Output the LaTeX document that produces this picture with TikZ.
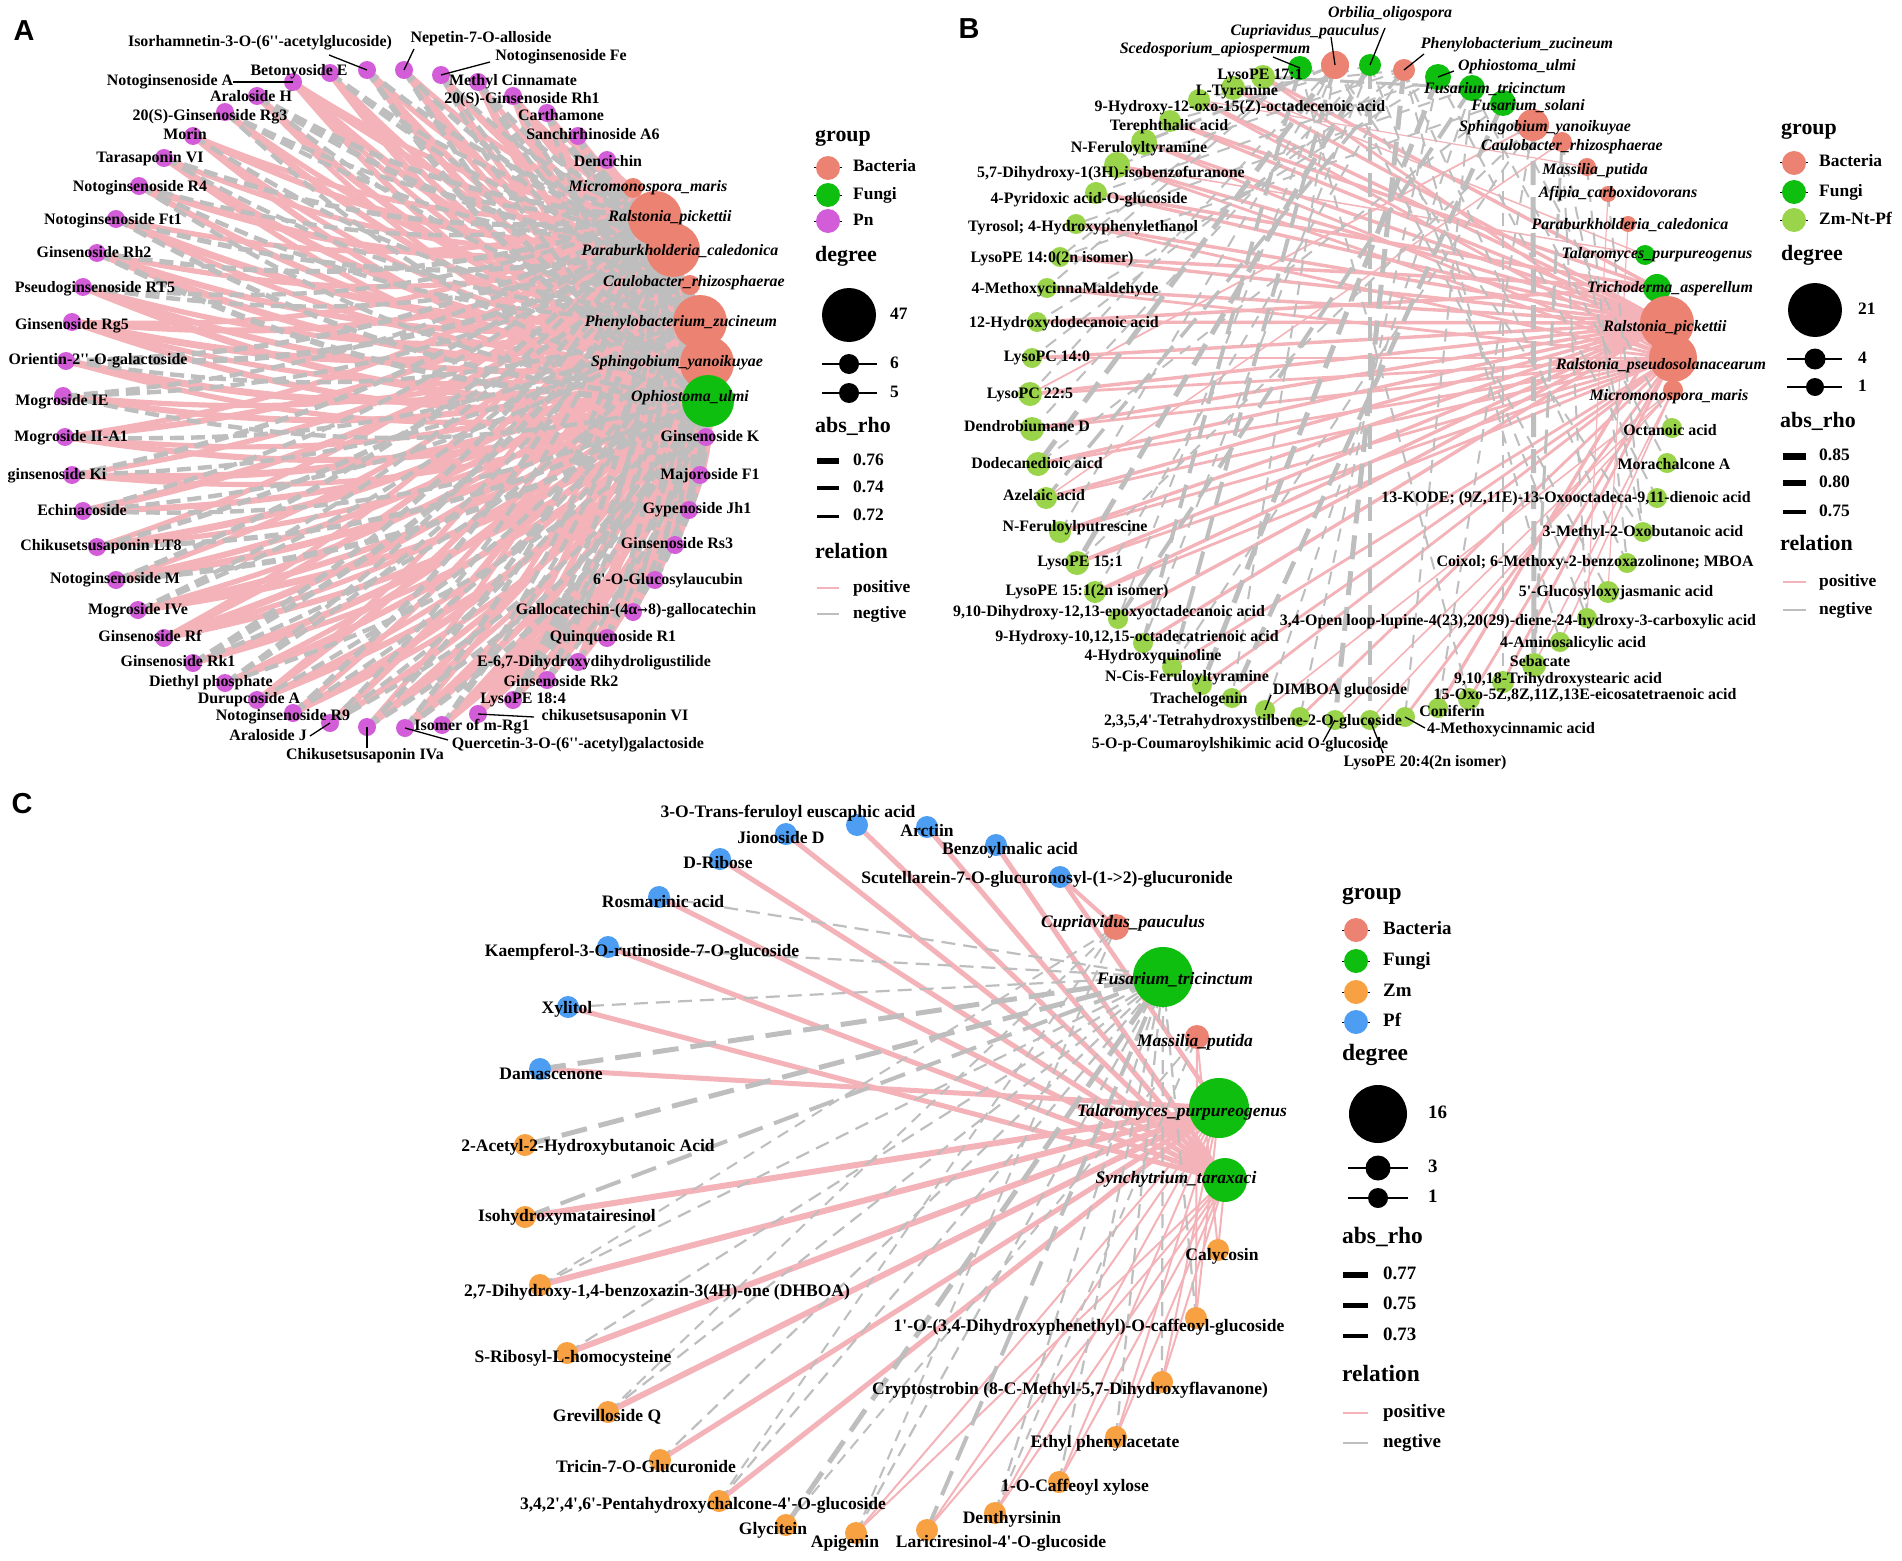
\documentclass[tikz,border=0pt]{standalone}
\usepackage{fontspec}
\newfontfamily\serf{Liberation Serif}[Ligatures=TeXOff]
\newfontfamily\sanf{Liberation Sans}
\newfontfamily\dejs{DejaVu Serif}
\definecolor{bact}{HTML}{EC8272}
\definecolor{fung}{HTML}{0FBF0F}
\definecolor{pn}{HTML}{D35CD8}
\definecolor{zmnt}{HTML}{9AD44B}
\definecolor{zm}{HTML}{F7A142}
\definecolor{pf}{HTML}{4D9EF3}
\definecolor{epink}{HTML}{F4B3B8}
\definecolor{egrey}{HTML}{BEBEBE}
\pgfdeclarelayer{bgfill}
\pgfdeclarelayer{edges}
\pgfsetlayers{bgfill,edges,main}
\newcommand\fnA{\serf\bfseries\fontsize{16}{18}\selectfont}
\newcommand\fnAi{\serf\bfseries\itshape\fontsize{16}{18}\selectfont}
\newcommand\fnC{\serf\bfseries\fontsize{17.6}{19}\selectfont}
\newcommand\fnCi{\serf\bfseries\itshape\fontsize{17.6}{19}\selectfont}
\newcommand\fnT{\serf\bfseries\fontsize{22}{24}\selectfont}
\newcommand\fnE{\serf\bfseries\fontsize{17.5}{19}\selectfont}
\newcommand\fnTc{\serf\bfseries\fontsize{23.5}{25}\selectfont}
\newcommand\fnEc{\serf\bfseries\fontsize{19}{21}\selectfont}
\newcommand\fnP{\sanf\bfseries\fontsize{29}{31}\selectfont}
\newcommand\arr{{\dejs\bfseries\fontsize{13}{15}\selectfont →}}
\tikzset{
 dot/.style={circle,inner sep=0pt,minimum size=#1,draw=none},
 la/.style={inner sep=0pt,font=\fnA,text height=11bp,text depth=3.5bp},
 lai/.style={la,font=\fnAi},
 lc/.style={inner sep=0pt,font=\fnC,text height=12bp,text depth=4bp},
 lci/.style={lc,font=\fnCi},
 pe/.style={draw=epink},
 ge/.style={draw=egrey,dash pattern=on 14bp off 7bp},
 geb/.style={draw=egrey,dash pattern=on 24bp off 12bp},
 lead/.style={draw=black,line width=1.3bp},
 lgt/.style={inner sep=0pt,font=\fnT,anchor=west,text height=15bp,text depth=5bp},
 lge/.style={inner sep=0pt,font=\fnE,anchor=west,text height=12bp,text depth=4bp},
 lgtc/.style={inner sep=0pt,font=\fnTc,anchor=west,text height=16bp,text depth=5bp},
 lgec/.style={inner sep=0pt,font=\fnEc,anchor=west,text height=13bp,text depth=4bp},
 keyline/.style={draw=black,line width=1bp},
}
% ---------------- data ----------------
\def\Alist{a1/706/437/710/438/{Ginsenoside K},
a2/700/475/710/476/{Majoroside F1},
a3/689/510/697/510/{Gypenoside Jh1},
a4/675/545/677/545/{Ginsenoside Rs3},
a5/655/580/668/581/{6'-O-Glucosylaucubin},
a6/633/612/636/611/{Gallocatechin-(4α\arr8)-gallocatechin},
a7/607/638/613/638/{Quinquenoside R1},
a8/578/662/594/663/{E-6,7-Dihydroxydihydroligustilide},
a9/547/680/561/683/{Ginsenoside Rk2},
a10/513/700/523/700/{LysoPE 18:4},
a11/478/714/615/717/{chikusetsusaponin VI},
a12/442/725/472/727/{Isomer of m-Rg1},
a13/405/728/578/745/{Quercetin-3-O-(6''-acetyl)galactoside},
a14/367/727/365/756/{Chikusetsusaponin IVa},
a15/330/723/268/737/{Araloside J},
a16/293/713/283/717/{Notoginsenoside R9},
a17/257/700/249/700/{Durupcoside A},
a18/225/683/211/683/{Diethyl phosphate},
a19/193/663/178/663/{Ginsenoside Rk1},
a20/164/638/150/638/{Ginsenoside Rf},
a21/138/610/138/611/{Mogroside IVe},
a22/116/580/115/580/{Notoginsenoside M},
a23/97/547/101/547/{Chikusetsusaponin LT8},
a24/83/511/82/512/{Echinacoside},
a25/72/475/57/476/{ginsenoside Ki},
a26/65/437/71/438/{Mogroside II-A1},
a27/63/396/62/402/{Mogroside IE},
a28/66/361/98/361/{Orientin-2''-O-galactoside},
a29/72/322/72/326/{Ginsenoside Rg5},
a30/83/287/95/289/{Pseudoginsenoside RT5},
a31/97/253/94/254/{Ginsenoside Rh2},
a32/116/219/113/221/{Notoginsenoside Ft1},
a33/139/186/140/188/{Notoginsenoside R4},
a34/164/158/150/159/{Tarasaponin VI},
a35/193/136/185/136/{Morin},
a36/225/112/210/117/{20(S)-Ginsenoside Rg3},
a37/257/96/251/98/{Araloside H},
a38/293/82/170/82/{Notoginsenoside A},
a39/330/73/299/72/{Betonyoside E},
a40/367/70/260/43/{Isorhamnetin-3-O-(6''-acetylglucoside)},
a41/404/70/481/39/{Nepetin-7-O-alloside},
a42/441/75/561/57/{Notoginsenoside Fe},
a43/478/82/513/82/{Methyl Cinnamate},
a44/513/96/522/100/{20(S)-Ginsenoside Rh1},
a45/547/113/561/117/{Carthamone},
a46/578/136/593/136/{Sanchirhinoside A6},
a47/607/160/608/163/{Dencichin}}
\def\AMlist{aM/633/188/20/bact/648/188/{Micromonospora\_maris},
aR/655/218/54/bact/670/218/{Ralstonia\_pickettii},
aP/673/250/54/bact/680/252/{Paraburkholderia\_caledonica},
aC/690/285/20/bact/694/283/{Caulobacter\_rhizosphaerae},
aPh/700/322/54/bact/681/323/{Phenylobacterium\_zucineum},
aS/707/363/54/bact/677/363/{Sphingobium\_yanoikuyae},
aO/708/401/52/fung/690/398/{Ophiostoma\_ulmi}}
\def\Blist{b1/1263/77/24/1260/76/{LysoPE 17:1},
b2/1233/88/24/1237/92/{L-Tyramine},
b3/1199/100/22/1240/108/{9-Hydroxy-12-oxo-15(Z)-octadecenoic acid},
b4/1170/121/22/1169/127/{Terephthalic acid},
b5/1144/142/26/1139/149/{N-Feruloyltyramine},
b6/1117/165/26/1111/174/{5,7-Dihydroxy-1(3H)-isobenzofuranone},
b7/1096/193/22/1089/200/{4-Pyridoxic acid-O-glucoside},
b8/1076/224/20/1083/228/{Tyrosol; 4-Hydroxyphenylethanol},
b9/1060/257/20/1052/259/{LysoPE 14:0(2n isomer)},
b10/1047/288/20/1065/290/{4-MethoxycinnaMaldehyde},
b11/1037/322/20/1064/324/{12-Hydroxydodecanoic acid},
b12/1032/358/20/1047/358/{LysoPC 14:0},
b13/1030/394/24/1030/395/{LysoPC 22:5},
b14/1032/429/24/1027/428/{Dendrobiumane D},
b15/1038/464/24/1037/465/{Dodecanedioic aicd},
b16/1046/498/22/1044/497/{Azelaic acid},
b17/1060/532/22/1075/528/{N-Feruloylputrescine},
b18/1077/563/24/1080/563/{LysoPE 15:1},
b19/1095/592/22/1087/592/{LysoPE 15:1(2n isomer)},
b20/1118/619/20/1109/613/{9,10-Dihydroxy-12,13-epoxyoctadecanoic acid},
b21/1143/643/20/1137/638/{9-Hydroxy-10,12,15-octadecatrienoic acid},
b22/1172/667/20/1153/657/{4-Hydroxyquinoline},
b23/1202/685/20/1187/678/{N-Cis-Feruloyltyramine},
b24/1232/698/20/1199/700/{Trachelogenin},
b25/1265/710/20/1340/691/{DIMBOA glucoside},
b26/1300/717/20/1253/722/{2,3,5,4'-Tetrahydroxystilbene-2-O-glucoside},
b27/1335/720/20/1240/745/{5-O-p-Coumaroylshikimic acid O-glucoside},
b28/1370/720/20/1425/763/{LysoPE 20:4(2n isomer)},
b29/1405/717/20/1511/730/{4-Methoxycinnamic acid},
b30/1438/708/20/1452/713/{Coniferin},
b31/1469/699/22/1585/696/{15-Oxo-5Z,8Z,11Z,13E-eicosatetraenoic acid},
b32/1503/682/22/1558/680/{9,10,18-Trihydroxystearic acid},
b33/1534/665/24/1540/663/{Sebacate},
b34/1560/642/20/1573/644/{4-Aminosalicylic acid},
b35/1587/618/20/1518/622/{3,4-Open loop-lupine-4(23),20(29)-diene-24-hydroxy-3-carboxylic acid},
b36/1608/592/22/1616/593/{5'-Glucosyloxyjasmanic acid},
b37/1627/563/20/1595/563/{Coixol; 6-Methoxy-2-benzoxazolinone; MBOA},
b38/1643/532/20/1643/533/{3-Methyl-2-Oxobutanoic acid},
b39/1657/498/20/1566/499/{13-KODE; (9Z,11E)-13-Oxooctadeca-9,11-dienoic acid},
b40/1667/463/20/1674/466/{Morachalcone A},
b41/1672/428/20/1670/432/{Octanoic acid}}
\def\BMlist{bSc/1300/68/24/fung/1215/50/{Scedosporium\_apiospermum},
bCu/1335/65/28/bact/1305/32/{Cupriavidus\_pauculus},
bOr/1370/65/22/fung/1390/14/{Orbilia\_oligospora},
bPh/1404/70/22/bact/1517/45/{Phenylobacterium\_zucineum},
bOp/1438/77/26/fung/1517/67/{Ophiostoma\_ulmi},
bFt/1472/88/26/fung/1495/90/{Fusarium\_tricinctum},
bFs/1503/103/26/fung/1528/107/{Fusarium\_solani},
bSp/1533/125/32/bact/1545/128/{Sphingobium\_yanoikuyae},
bCa/1562/142/20/bact/1572/147/{Caulobacter\_rhizosphaerae},
bMa/1587/167/18/bact/1595/171/{Massilia\_putida},
bAf/1608/194/16/bact/1618/194/{Afipia\_carboxidovorans},
bPa/1628/224/16/bact/1630/226/{Paraburkholderia\_caledonica},
bTa/1645/255/20/fung/1657/255/{Talaromyces\_purpureogenus},
bTr/1657/288/28/fung/1670/289/{Trichoderma\_asperellum},
bRp/1667/323/54/bact/1665/328/{Ralstonia\_pickettii},
bRs/1673/358/48/bact/1661/366/{Ralstonia\_pseudosolanacearum},
bMi/1673/390/20/bact/1669/397/{Micromonospora\_maris}}
\def\Clist{c1/857/825/pf/788/813/{3-O-Trans-feruloyl euscaphic acid},
c2/786/834/pf/781/839/{Jionoside D},
c3/927/827/pf/927/832/{Arctiin},
c4/996/845/pf/1010/850/{Benzoylmalic acid},
c5/720/859/pf/718/864/{D-Ribose},
c6/1060/877/pf/1047/879/{Scutellarein-7-O-glucuronosyl-(1->2)-glucuronide},
c7/659/897/pf/663/903/{Rosmarinic acid},
c8/608/947/pf/642/952/{Kaempferol-3-O-rutinoside-7-O-glucoside},
c9/568/1007/pf/567/1009/{Xylitol},
c10/540/1069/pf/551/1075/{Damascenone},
c11/525/1145/zm/588/1147/{2-Acetyl-2-Hydroxybutanoic Acid},
c12/525/1217/zm/567/1217/{Isohydroxymatairesinol},
c13/540/1285/zm/657/1292/{2,7-Dihydroxy-1,4-benzoxazin-3(4H)-one (DHBOA)},
c14/567/1353/zm/573/1358/{S-Ribosyl-L-homocysteine},
c15/608/1412/zm/607/1417/{Grevilloside Q},
c16/660/1460/zm/646/1468/{Tricin-7-O-Glucuronide},
c17/719/1501/zm/703/1505/{3,4,2',4',6'-Pentahydroxychalcone-4'-O-glucoside},
c18/786/1525/zm/773/1530/{Glycitein},
c19/856/1533/zm/845/1543/{Apigenin},
c20/927/1530/zm/1001/1543/{Lariciresinol-4'-O-glucoside},
c21/995/1513/zm/1012/1519/{Denthyrsinin},
c22/1059/1482/zm/1075/1487/{1-O-Caffeoyl xylose},
c23/1116/1437/zm/1105/1443/{Ethyl phenylacetate},
c24/1162/1382/zm/1070/1390/{Cryptostrobin (8-C-Methyl-5,7-Dihydroxyflavanone)},
c25/1196/1318/zm/1089/1327/{1'-O-(3,4-Dihydroxyphenethyl)-O-caffeoyl-glucoside},
c26/1218/1250/zm/1222/1256/{Calycosin}}
\def\CMlist{cCu/1116/927/26/bact/1123/923/{Cupriavidus\_pauculus},
cFt/1163/977/60/fung/1175/980/{Fusarium\_tricinctum},
cMa/1197/1037/24/bact/1195/1042/{Massilia\_putida},
cTa/1219/1108/60/fung/1182/1112/{Talaromyces\_purpureogenus},
cSy/1225/1180/44/fung/1176/1179/{Synchytrium\_taraxaci}}
\begin{document}
\begin{tikzpicture}[x=1bp,y=-1bp]
\begin{pgfonlayer}{bgfill}
\fill[white] (0,0) rectangle (1902,1561);
\end{pgfonlayer}
\useasboundingbox (0,0) rectangle (1902,1561);
% ---------- circles ----------
\foreach \n/\x/\y/\lx/\ly/\tx in \Alist {\node[dot=18bp,fill=pn] (\n) at (\x,\y) {};}
\foreach \n/\x/\y/\d/\cl/\lx/\ly/\tx in \AMlist {\node[dot=\d bp,fill=\cl] (\n) at (\x,\y) {};}
\foreach \n/\x/\y/\d/\lx/\ly/\tx in \Blist {\node[dot=\d bp,fill=zmnt] (\n) at (\x,\y) {};}
\foreach \n/\x/\y/\d/\cl/\lx/\ly/\tx in \BMlist {\node[dot=\d bp,fill=\cl] (\n) at (\x,\y) {};}
\foreach \n/\x/\y/\cl/\lx/\ly/\tx in \Clist {\node[dot=22bp,fill=\cl] (\n) at (\x,\y) {};}
\foreach \n/\x/\y/\d/\cl/\lx/\ly/\tx in \CMlist {\node[dot=\d bp,fill=\cl] (\n) at (\x,\y) {};}
% ---------- labels ----------
\foreach \n/\x/\y/\lx/\ly/\tx in \Alist {\node[la] (l\n) at (\lx,\ly) {\tx};}
\foreach \n/\x/\y/\d/\cl/\lx/\ly/\tx in \AMlist {\node[lai] (l\n) at (\lx,\ly) {\tx};}
\foreach \n/\x/\y/\d/\lx/\ly/\tx in \Blist {\node[la] (l\n) at (\lx,\ly) {\tx};}
\foreach \n/\x/\y/\d/\cl/\lx/\ly/\tx in \BMlist {\node[lai] (l\n) at (\lx,\ly) {\tx};}
\foreach \n/\x/\y/\cl/\lx/\ly/\tx in \Clist {\node[lc] (l\n) at (\lx,\ly) {\tx};}
\foreach \n/\x/\y/\d/\cl/\lx/\ly/\tx in \CMlist {\node[lci] (l\n) at (\lx,\ly) {\tx};}
% ---------- leader lines ----------
\foreach \k/\x/\y/\t in {k40/329/55/a40, k41/414/49/a41, k42/490/62/a42, k38/233/82/a38,
  k15/310/736/a15, k14/367/748/a14, k13/448/740/a13, k11/534/717/a11,
  kSc/1273/57/bSc, kCu/1331/37/bCu, kOr/1385/28/bOr, kPh/1424/54/bPh, kOp/1454/71/bOp,
  k25/1271/695/b25, k27/1323/742/b27, k28/1383/753/b28, k29/1425/728/b29}
 {\coordinate (\k) at (\x,\y); \draw[lead] (\k) -- (\t.center);}
% ---------- panel letters ----------
\node[font=\fnP,inner sep=0pt] (pA) at (24,31) {A};
\node[font=\fnP,inner sep=0pt] (pB) at (969,29) {B};
\node[font=\fnP,inner sep=0pt] (pC) at (22,804) {C};
% ---------- edges ----------
\begin{pgfonlayer}{edges}
% panel A
\foreach \m [count=\j] in {aR,aP,aPh,aS,aO}{
 \foreach \i in {1,...,47}{
  \pgfmathtruncatemacro\h{mod(3*\i*\i+5*\i+7*\j+\i*\j,9)}
  \pgfmathsetmacro\w{5.2+0.9*mod(\i+\j,3)}
  \ifnum\h<5\relax
   \draw[pe,line width=\w bp] (a\i.center) to[bend right=12] (\m.center);
  \fi}}
\foreach \i in {44,45,46,47,1,2}{\draw[pe,line width=5bp] (a\i.center) to[bend right=12] (aM.center);}
\foreach \m [count=\j] in {aR,aP,aPh,aS,aO}{
 \foreach \i in {1,...,47}{
  \pgfmathtruncatemacro\h{mod(3*\i*\i+5*\i+7*\j+\i*\j,9)}
  \pgfmathsetmacro\w{4.4+0.8*mod(\i*\j,3)}
  \ifnum\h>4\relax
   \draw[ge,line width=\w bp] (a\i.center) to[bend right=12] (\m.center);
  \fi}}
\foreach \i in {2,3,43,46,10}{\draw[ge,line width=4.4bp] (a\i.center) to[bend right=12] (aC.center);}
% panel B positive
\foreach \i in {2,3,4,5,6,7,8,9,10,11,12,13,14,15,16,17,18,19,20,21,30}
 {\draw[pe,line width=3.4bp] (b\i.center) -- (bRp.center);}
\foreach \i in {1,3,5,6,8,10,12,13,14,15,16,17,18,19,22,23,24,26,29,31,32}
 {\draw[pe,line width=2.8bp] (b\i.center) -- (bRs.center);}
\foreach \i in {1,4,7,9,11}{\draw[pe,line width=3.5bp] (b\i.center) -- (bTr.center);}
\foreach \i in {25,27,28,33,34}{\draw[pe,line width=1.6bp] (b\i.center) -- (bMi.center);}
\foreach \sa/\ea/\w in {b2/bTa/1.5, b6/bTa/1.5, b35/bAf/1.2, b36/bPa/1.2, b3/bMa/1.2, b13/bSp/1.8, b16/bCa/1.5}
 {\draw[pe,line width=\w bp] (\sa.center) -- (\ea.center);}
% panel B negative
\foreach \sa/\ea in {bCu/b13, bCu/b17, bCu/b20, bCu/b24, bCu/b36, bCu/b38, bCu/b3, bOr/b14, bOr/b21, bOr/b35, bOr/b4,
  bPh/b12, bPh/b19, bPh/b34, bPh/b37, bPh/b2, bPh/b6, bOp/b11, bOp/b26, bOp/b39, bOp/b7, bFt/b25, bFt/b29, bFt/b40,
  bFt/b8, bFs/b15, bFs/b32, bFs/b41, bFs/b9, bSc/b9, bSc/b31, bSc/b10, bSp/b18, bSp/b22, bSp/b30, bCa/b35, bCa/b38,
  bMa/b37, bAf/b38}
 {\draw[draw=egrey,line width=2bp,dash pattern=on 13bp off 9bp] (\sa.center) -- (\ea.center);}
\foreach \sa/\ea/\w in {bCu/b15/5, bCu/b22/4, bCu/b5/3, bOr/b18/5, bOr/b28/4, bPh/b16/3.5, bPh/b27/5, bOp/b23/5,
  bFt/b20/4, bFt/b1/3, bFs/b24/4.5, bSc/b21/4, bSp/b33/5, bCa/b33/3}
 {\draw[geb,line width=\w bp] (\sa.center) -- (\ea.center);}
% panel C positive
\foreach \i in {1,2,3,4,5,7,8,9}{\draw[pe,line width=5bp] (c\i.center) -- (cSy.center);}
\foreach \i/\w in {6/4.5,10/5,12/6,13/6,14/6,15/6,16/5,17/5}{\draw[pe,line width=\w bp] (c\i.center) -- (cTa.center);}
\foreach \i in {19,20,21,22,23,24,25}{\draw[pe,line width=2bp] (c\i.center) -- (cTa.center);}
\foreach \i in {19,20,21,22,23,24,26}{\draw[pe,line width=2bp] (c\i.center) -- (cSy.center);}
\foreach \i in {25,26}{\draw[pe,line width=2bp] (c\i.center) -- (cMa.center);}
\draw[pe,line width=4bp] (c6.center) -- (cCu.center);
% panel C negative
\foreach \i/\w in {10/5,11/5,12/4,18/5,20/4}{\draw[draw=egrey,line width=\w bp,dash pattern=on 26bp off 12bp] (c\i.center) -- (cFt.center);}
\foreach \i in {7,8,9,13,14,15,16,17,19,21,22,23,24,25}{\draw[draw=egrey,line width=2.2bp,dash pattern=on 14bp off 8bp] (c\i.center) -- (cFt.center);}
\foreach \i in {13,15,17,19}{\draw[draw=egrey,line width=2bp,dash pattern=on 12bp off 8bp] (c\i.center) -- (cCu.center);}
\foreach \i in {18,21}{\draw[draw=egrey,line width=2bp,dash pattern=on 12bp off 8bp] (c\i.center) -- (cMa.center);}
\end{pgfonlayer}
% ---------- legend A ----------
\node[lgt] (gtA) at (815,137) {group};
\foreach \n/\y/\cl/\tx in {gA1/168/bact/Bacteria, gA2/195/fung/Fungi, gA3/221/pn/Pn}{
  \draw[keyline] (814,\y) -- (842,\y);
  \node[dot=24bp,fill=\cl] (\n) at (828,\y) {};
  \node[lge] (t\n) at (853,\y) {\tx};}
\node[lgt] (dtA) at (815,256) {degree};
\node[dot=54bp,fill=black] (dA1) at (849,315) {};
\node[lge] (tdA1) at (890,315) {47};
\foreach \n/\y/\tx in {dA2/364/6, dA3/393/5}{
  \draw[keyline,line width=1.5bp] (822,\y) -- (877,\y);
  \node[dot=20bp,fill=black] (\n) at (849,\y) {};
  \node[lge] (t\n) at (890,\y) {\tx};}
\node[lgt] (rtA) at (815,427) {abs\_rho};
\foreach \n/\y/\w/\tx in {rA1/461/6/0.76, rA2/488/4.5/0.74, rA3/516/3/0.72}{
  \draw[line width=\w bp] (817,\y) -- (839,\y);
  \node[lge] (\n) at (853,\y) {\tx};}
\node[lgt] (etA) at (815,553) {relation};
\draw[pe,line width=2bp] (817,588) -- (839,588);
\node[lge] (eA1) at (853,588) {positive};
\draw[draw=egrey,line width=2bp] (817,614) -- (839,614);
\node[lge] (eA2) at (853,614) {negtive};
% ---------- legend B ----------
\node[lgt] (gtB) at (1781,130) {group};
\foreach \n/\y/\cl/\tx in {gB1/163/bact/Bacteria, gB2/192/fung/Fungi, gB3/220/zmnt/Zm-Nt-Pf}{
  \draw[keyline] (1780,\y) -- (1808,\y);
  \node[dot=24bp,fill=\cl] (\n) at (1794,\y) {};
  \node[lge] (t\n) at (1819,\y) {\tx};}
\node[lgt] (dtB) at (1781,255) {degree};
\node[dot=54bp,fill=black] (dB1) at (1815,310) {};
\node[lge] (tdB1) at (1858,310) {21};
\foreach \n/\y/\d/\tx in {dB2/359/21/4, dB3/387/18/1}{
  \draw[keyline,line width=1.5bp] (1787,\y) -- (1842,\y);
  \node[dot=\d bp,fill=black] (\n) at (1815,\y) {};
  \node[lge] (t\n) at (1858,\y) {\tx};}
\node[lgt] (rtB) at (1780,422) {abs\_rho};
\foreach \n/\y/\w/\tx in {rB1/456/7/0.85, rB2/483/5.5/0.80, rB3/512/4/0.75}{
  \draw[line width=\w bp] (1783,\y) -- (1806,\y);
  \node[lge] (\n) at (1819,\y) {\tx};}
\node[lgt] (etB) at (1780,545) {relation};
\draw[pe,line width=2bp] (1783,582) -- (1806,582);
\node[lge] (eB1) at (1819,582) {positive};
\draw[draw=egrey,line width=2bp] (1783,610) -- (1806,610);
\node[lge] (eB2) at (1819,610) {negtive};
% ---------- legend C ----------
\node[lgtc] (gtC) at (1342,894) {group};
\foreach \n/\y/\cl/\tx in {gC1/930/bact/Bacteria, gC2/961/fung/Fungi, gC3/992/zm/Zm, gC4/1022/pf/Pf}{
  \draw[keyline] (1342,\y) -- (1370,\y);
  \node[dot=24bp,fill=\cl] (\n) at (1356,\y) {};
  \node[lgec] (t\n) at (1383,\y) {\tx};}
\node[lgtc] (dtC) at (1342,1055) {degree};
\node[dot=58bp,fill=black] (dC1) at (1378,1114) {};
\node[lgec] (tdC1) at (1428,1114) {16};
\foreach \n/\y/\d/\tx in {dC2/1168/25/3, dC3/1198/20/1}{
  \draw[keyline,line width=1.5bp] (1348,\y) -- (1408,\y);
  \node[dot=\d bp,fill=black] (\n) at (1378,\y) {};
  \node[lgec] (t\n) at (1428,\y) {\tx};}
\node[lgtc] (rtC) at (1342,1238) {abs\_rho};
\foreach \n/\y/\w/\tx in {rC1/1275/6/0.77, rC2/1305/5/0.75, rC3/1336/3.5/0.73}{
  \draw[line width=\w bp] (1343,\y) -- (1368,\y);
  \node[lgec] (\n) at (1383,\y) {\tx};}
\node[lgtc] (etC) at (1342,1376) {relation};
\draw[pe,line width=2bp] (1343,1413) -- (1368,1413);
\node[lgec] (eC1) at (1383,1413) {positive};
\draw[draw=egrey,line width=2bp] (1343,1443) -- (1368,1443);
\node[lgec] (eC2) at (1383,1443) {negtive};
\end{tikzpicture}
\end{document}
